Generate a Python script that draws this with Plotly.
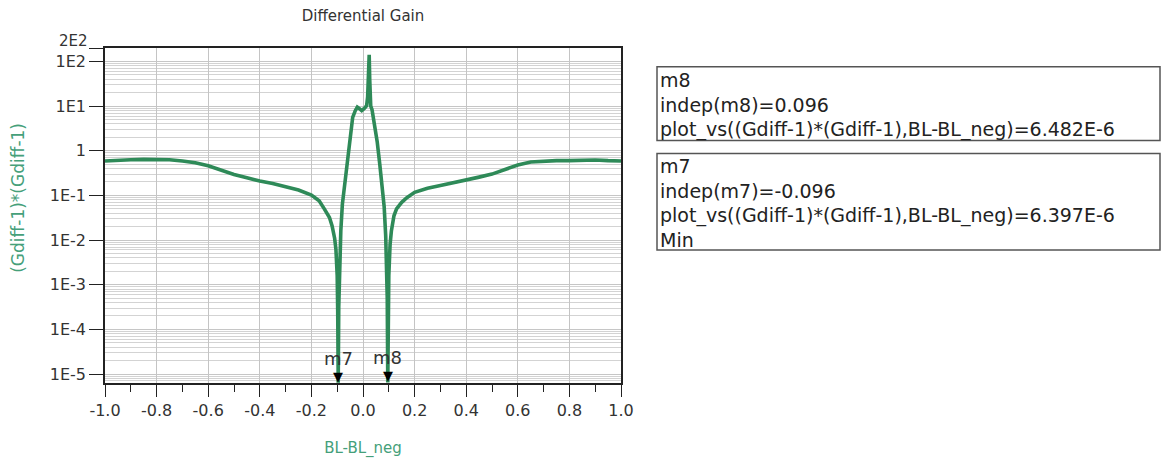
import math
import plotly.graph_objects as go

# ---------------- data ----------------
bl_diff = [-1.0, -0.95, -0.9, -0.85, -0.8, -0.75, -0.7, -0.65, -0.6, -0.55,
           -0.5, -0.45, -0.4, -0.35, -0.3, -0.25, -0.2, -0.17, -0.15, -0.13,
           -0.12, -0.11, -0.105, -0.1, -0.098, -0.096, -0.094, -0.092, -0.09, -0.086,
           -0.08, -0.07, -0.06, -0.05, -0.04, -0.03, -0.022, -0.015, -0.005, 0.005,
           0.014, 0.018, 0.022, 0.024, 0.026, 0.03, 0.035, 0.045, 0.055, 0.065,
           0.075, 0.082, 0.088, 0.092, 0.094, 0.096, 0.098, 0.1, 0.105, 0.11,
           0.12, 0.13, 0.15, 0.17, 0.2, 0.25, 0.3, 0.35, 0.4, 0.45,
           0.5, 0.55, 0.6, 0.65, 0.7, 0.75, 0.8, 0.85, 0.9, 0.95, 1.0]

gain_err = [0.59, 0.62, 0.63, 0.64, 0.64, 0.63, 0.59, 0.54, 0.46, 0.37,
            0.295, 0.25, 0.21, 0.186, 0.158, 0.132, 0.102, 0.076, 0.05, 0.032,
            0.021, 0.011, 0.0063, 0.0016, 2.5e-4, 6.397e-6, 3.2e-4, 1.6e-3, 0.004, 0.016,
            0.063, 0.2, 0.45, 1.4, 5.6, 7.9, 9.5, 8.9, 7.9, 8.9,
            10.2, 16.0, 63.0, 141.0, 40.0, 10.0, 8.3, 4.0, 1.6, 0.5,
            0.16, 0.056, 0.0126, 0.0025, 5e-4, 6.482e-6, 3.2e-4, 0.0016, 0.008, 0.016,
            0.035, 0.05, 0.07, 0.089, 0.117, 0.145, 0.166, 0.19, 0.224, 0.257,
            0.30, 0.38, 0.48, 0.56, 0.59, 0.60, 0.60, 0.62, 0.62, 0.60, 0.59]

x_tick_vals = [-1.0, -0.8, -0.6, -0.4, -0.2, 0.0, 0.2, 0.4, 0.6, 0.8, 1.0]
x_tick_text = ["-1.0", "-0.8", "-0.6", "-0.4", "-0.2", "0.0", "0.2", "0.4", "0.6", "0.8", "1.0"]
y_tick_vals = [1e-5, 1e-4, 1e-3, 1e-2, 1e-1, 1, 10, 100, 200]
y_tick_text = ["1E-5", "1E-4", "1E-3", "1E-2", "1E-1", "1", "1E1", "1E2", "2E2"]

marker_names = ["m8", "m7"]
marker_x = [0.096, -0.096]
marker_y = [6.482e-6, 6.397e-6]
marker_note = ["", "Min"]

# ---------------- style ----------------
FONT = "DejaVu Sans"
CURVE = "#2e8a58"
LABEL_GREEN = "#45a07a"
TEXT = "#222222"

# plot area in pixels (figure 1166 x 466)
L, R, T, B = 105, 621, 48, 388
W, H = 1166, 466


def px2paper_x(px):
    return (px - L) / (R - L)


def px2paper_y(py):
    return (B - py) / (B - T)


def fmt_e(v):
    m, e = f"{v:.3E}".split("E")
    return f"{m}E{int(e)}"


fig = go.Figure()
fig.add_trace(go.Scatter(x=bl_diff, y=gain_err, mode="lines",
                         line=dict(color=CURVE, width=3.6), showlegend=False,
                         hoverinfo="x+y"))

minor_y = [m * 10.0 ** k for k in range(-6, 3) for m in range(2, 10)]

# the top tick label ("2E2") is drawn separately just above its tick so it
# does not sit on top of "1E2"
axis_tick_text = [t if v != max(y_tick_vals) else "" for v, t in zip(y_tick_vals, y_tick_text)]

fig.update_layout(
    width=W, height=H,
    margin=dict(l=L, r=W - R, t=T, b=H - B),
    paper_bgcolor="white", plot_bgcolor="white",
    font=dict(family=FONT, size=16, color=TEXT),
    title=dict(text="Differential Gain", x=px2paper_x(363), xref="paper", xanchor="center",
               y=1 - 16 / H, yref="container", yanchor="middle",
               font=dict(family=FONT, size=15, color="#333333")),
    xaxis=dict(
        range=[-1.0, 1.0], tickmode="array", tickvals=x_tick_vals, ticktext=x_tick_text,
        ticks="outside", ticklen=12, tickwidth=1.2, tickcolor="#222",
        showgrid=True, gridcolor="#c4c4c4", gridwidth=1, zeroline=False,
        showline=True, linecolor="#222", linewidth=1.5, mirror=True,
        tickfont=dict(family=FONT, size=16, color="#333"),
        minor=dict(tickmode="linear", tick0=-1.0, dtick=0.1, ticks="outside",
                   ticklen=7, tickcolor="#222", showgrid=False),
        title=dict(text="BL-BL_neg", standoff=24,
                   font=dict(family=FONT, size=15, color=LABEL_GREEN)),
    ),
    yaxis=dict(
        type="log", range=[-5.2, math.log10(200)],
        tickmode="array", tickvals=y_tick_vals, ticktext=axis_tick_text,
        ticks="outside", ticklen=14, tickwidth=1.2, tickcolor="#222",
        showgrid=True, gridcolor="#c6c6c6", gridwidth=1, zeroline=False,
        showline=True, linecolor="#222", linewidth=1.5, mirror=True,
        tickfont=dict(family=FONT, size=16, color="#333"),
        minor=dict(tickmode="array", tickvals=minor_y, ticks="",
                   showgrid=True, gridcolor="#d3d3d3", gridwidth=1.2),
    ),
)

# "2E2" label, just above its tick
fig.add_annotation(xref="paper", yref="y", x=px2paper_x(L - 16), y=math.log10(max(y_tick_vals)),
                   text=y_tick_text[-1], showarrow=False, xanchor="right", yanchor="middle",
                   yshift=7, borderpad=0, font=dict(family=FONT, size=15, color="#333"))

# y axis title
fig.add_annotation(xref="paper", yref="paper", x=px2paper_x(18), y=px2paper_y(200),
                   text="(Gdiff-1)*(Gdiff-1)", textangle=-90, showarrow=False,
                   xanchor="center", yanchor="middle",
                   font=dict(family=FONT, size=17, color=LABEL_GREEN))

# marker glyphs and labels on the curve
for name, mx, my in zip(marker_names, marker_x, marker_y):
    fig.add_annotation(x=mx, y=math.log10(my), xref="x", yref="y", text="▼",
                       showarrow=False, yanchor="bottom", xanchor="center", yshift=-2,
                       borderpad=0, font=dict(family=FONT, size=13, color="#000"))
    fig.add_annotation(x=mx, y=math.log10(my), xref="x", yref="y", text=name,
                       showarrow=False, yanchor="bottom", xanchor="center", yshift=13,
                       borderpad=0, font=dict(family=FONT, size=18, color="#333"))

# marker readout boxes
boxes = [(657, 1160, 67, 142), (657, 1160, 155, 253)]
for (bx0, bx1, by0, by1), name, mx, my, note in zip(boxes, marker_names, marker_x,
                                                    marker_y, marker_note):
    fig.add_shape(type="rect", xref="paper", yref="paper",
                  x0=px2paper_x(bx0), x1=px2paper_x(bx1),
                  y0=px2paper_y(by1), y1=px2paper_y(by0),
                  line=dict(color="#555", width=1.5), fillcolor="rgba(0,0,0,0)")
    lines = [name, f"indep({name})={mx:.3f}",
             f"plot_vs((Gdiff-1)*(Gdiff-1),BL-BL_neg)={fmt_e(my)}"]
    if note:
        lines.append(note)
    fig.add_annotation(xref="paper", yref="paper", x=px2paper_x(bx0 + 1),
                       y=px2paper_y(by0), xanchor="left", yanchor="top", align="left",
                       showarrow=False, text="<br>".join(lines),
                       font=dict(family=FONT, size=19, color=TEXT))

fig.write_html("out.html")
